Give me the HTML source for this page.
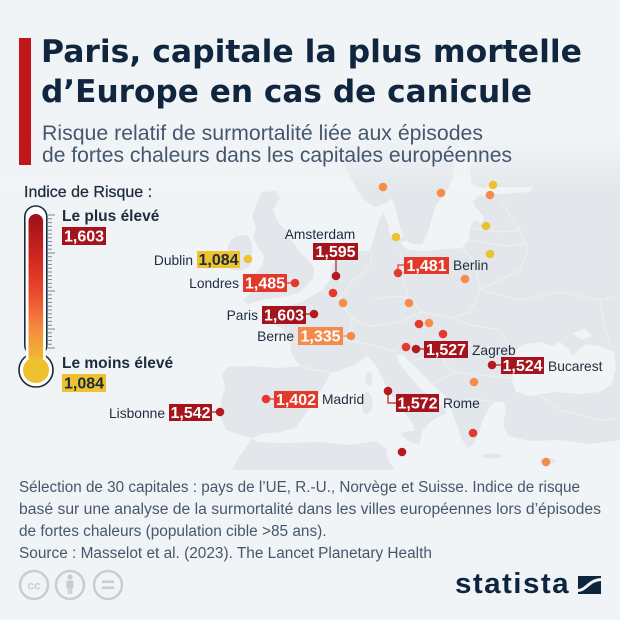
<!DOCTYPE html>
<html>
<head>
<meta charset="utf-8">
<style>
html,body{margin:0;padding:0;background:#f1f4f7;}
body{width:620px;height:620px;overflow:hidden;}
svg{display:block;}
</style>
</head>
<body>
<svg width="620" height="620" viewBox="0 0 620 620" xmlns="http://www.w3.org/2000/svg">
<defs>
  <linearGradient id="fg" gradientUnits="userSpaceOnUse" x1="0" y1="138" x2="0" y2="192">
    <stop offset="0" stop-color="#fff" stop-opacity="0"/>
    <stop offset="1" stop-color="#fff" stop-opacity="1"/>
  </linearGradient>
  <mask id="mk" maskUnits="userSpaceOnUse" x="0" y="0" width="620" height="620">
    <rect x="0" y="0" width="620" height="470" fill="url(#fg)"/>
  </mask>
  <linearGradient id="th" gradientUnits="userSpaceOnUse" x1="0" y1="214" x2="0" y2="372">
    <stop offset="0" stop-color="#9c1018"/>
    <stop offset="0.3" stop-color="#d42a22"/>
    <stop offset="0.5" stop-color="#ea4a2c"/>
    <stop offset="0.7" stop-color="#f5843f"/>
    <stop offset="0.9" stop-color="#f0b534"/>
    <stop offset="1" stop-color="#eec12f"/>
  </linearGradient>
</defs>

<rect width="620" height="620" fill="#f1f4f7"/>

<!-- MAP -->
<g mask="url(#mk)">
  <rect x="0" y="120" width="620" height="350" fill="#e3e6ea"/>
  <!-- country borders -->
  <g fill="none" stroke="#eef1f4" stroke-width="1">
    <polyline points="300,366 315,370 330,372"/>
    <polyline points="322,290 338,300 352,318 350,330 345,340"/>
    <polyline points="345,340 372,345 396,352"/>
    <polyline points="370,250 372,262 364,272 352,282 338,300"/>
    <polyline points="400,252 402,275 408,295"/>
    <polyline points="372,300 392,296 410,298 422,312 400,322 370,326 352,318"/>
    <polyline points="462,248 475,262 480,290 470,312 452,318 422,312"/>
    <polyline points="470,228 500,232 520,230"/>
    <polyline points="469,240 505,246 525,244"/>
    <polyline points="500,199 510,215 520,230 528,250 520,270 480,290"/>
    <polyline points="480,290 520,300 560,292 600,300 620,296"/>
    <polyline points="452,318 470,325 500,330 512,352"/>
    <polyline points="410,362 440,352 470,345 500,350 512,352"/>
    <polyline points="432,384 455,372 480,375 512,378"/>
    <polyline points="450,405 470,398 494,402"/>
    <polyline points="440,340 445,365 455,372"/>
    <polyline points="600,300 605,330 612,350"/>
    <polyline points="540,395 560,410 600,420 620,418"/>
  </g>
  <g fill="#f1f4f7">
    <!-- Atlantic / North Sea -->
    <polygon points="0,120 330,120 338,150 346,168 352,180 362,198 375,207 386,203 392,198 396,210 399,224 404,236 398,240 390,236 388,224 384,213 378,222 374,238 370,250 355,252 340,258 332,265 330,280 322,290 312,296 302,302 292,305 282,312 270,315 268,322 282,328 290,340 292,355 300,366 280,368 250,366 228,367 222,374 225,388 221,402 220,416 226,430 240,435 252,438 248,445 240,455 232,470 0,470"/>
    <!-- Baltic -->
    <polygon points="400,243 408,250 425,251 445,249 462,248 469,240 470,228 474,220 482,224 484,216 476,208 473,202 478,196 500,194 530,192 533,187 505,187 482,188 472,184 470,172 474,150 476,120 458,120 456,150 452,180 446,192 436,205 432,218 428,232 422,244 412,244 406,240"/>
    <!-- Mediterranean -->
    <polygon points="252,438 262,434 280,432 295,428 303,418 312,405 320,392 327,380 330,373 342,370 352,366 362,360 368,356 375,364 382,377 388,390 396,402 405,413 413,424 417,435 423,430 430,422 440,416 447,413 442,406 432,398 420,388 410,377 402,367 396,356 402,354 410,362 420,372 432,384 444,395 450,405 453,415 458,428 462,440 468,448 474,444 478,435 482,422 488,410 494,402 504,402 506,412 503,424 508,436 530,441 560,440 590,444 620,440 620,470 395,470 388,460 386,448 376,441 350,445 320,442 280,443 258,442"/>
    <!-- Black Sea -->
    <polygon points="512,352 525,344 540,342 552,346 560,342 568,348 572,356 578,350 586,344 600,346 614,352 616,368 612,384 600,392 580,394 555,392 530,396 516,392 512,380 514,366"/>
    <polygon points="572,333 585,329 592,336 582,340"/>
  </g>
  <g fill="#e3e6ea">
    <!-- Great Britain -->
    <polygon points="262,192 276,191 280,198 273,210 278,222 287,232 293,242 300,252 308,260 314,268 313,278 306,286 300,292 288,296 275,298 262,300 248,304 243,300 252,292 262,287 258,280 254,274 262,266 264,256 258,247 253,238 256,228 252,216 256,205"/>
    <!-- Ireland -->
    <polygon points="236,236 247,235 252,242 252,256 250,266 240,271 229,269 231,258 227,248 231,240"/>
    <ellipse cx="369" cy="379" rx="3.5" ry="7"/>
    <ellipse cx="367" cy="403" rx="5.5" ry="11"/>
    <polygon points="400,433 423,429 419,445 408,441"/>
    <ellipse cx="492" cy="456" rx="11" ry="2.5"/>
    <ellipse cx="548" cy="461" rx="8" ry="3"/>
    <ellipse cx="333" cy="400" rx="5" ry="2.5"/>
  </g>
</g>

<!-- TITLE -->
<rect x="19" y="38" width="12" height="127" fill="#c0161c"/>
<g font-family="'DejaVu Sans','Liberation Sans',sans-serif" font-weight="bold" font-size="31.5" fill="#10263f">
  <text x="41" y="62" textLength="541" lengthAdjust="spacingAndGlyphs">Paris, capitale la plus mortelle</text>
  <text x="41" y="102" textLength="491" lengthAdjust="spacingAndGlyphs">d’Europe en cas de canicule</text>
</g>
<g font-family="'Liberation Sans',sans-serif" font-size="21" fill="#45576c">
  <text x="42" y="140" textLength="441" lengthAdjust="spacingAndGlyphs">Risque relatif de surmortalité liée aux épisodes</text>
  <text x="42" y="162" textLength="470" lengthAdjust="spacingAndGlyphs">de fortes chaleurs dans les capitales européennes</text>
</g>

<!-- LEGEND -->
<text x="24" y="197" font-family="'Liberation Sans',sans-serif" font-size="16" fill="#1d2b3b" stroke="#1d2b3b" stroke-width="0.25">Indice de Risque :</text>
<!-- thermometer -->
<rect x="24.8" y="206" width="22" height="150" rx="11" fill="#fff" stroke="#1c2b3b" stroke-width="1.6"/>
<circle cx="36" cy="370" r="17" fill="#fff" stroke="#1c2b3b" stroke-width="1.6"/>
<rect x="25.8" y="340" width="20" height="22" fill="#fff"/>
<rect x="28.5" y="214" width="14.6" height="150" rx="7.3" fill="url(#th)"/>
<circle cx="36" cy="370" r="13" fill="#eec12f"/>
<g stroke="#7b8794" stroke-width="1">
  <line x1="47" y1="215" x2="55" y2="215"/>
  <line x1="47" y1="218.8" x2="52" y2="218.8"/>
  <line x1="47" y1="222.6" x2="52" y2="222.6"/>
  <line x1="47" y1="226.4" x2="52" y2="226.4"/>
  <line x1="47" y1="230.2" x2="52" y2="230.2"/>
  <line x1="47" y1="234" x2="52" y2="234"/>
  <line x1="47" y1="237.8" x2="52" y2="237.8"/>
  <line x1="47" y1="241.6" x2="52" y2="241.6"/>
  <line x1="47" y1="245.4" x2="52" y2="245.4"/>
  <line x1="47" y1="249.2" x2="52" y2="249.2"/>
  <line x1="47" y1="253" x2="55" y2="253"/>
  <line x1="47" y1="256.8" x2="52" y2="256.8"/>
  <line x1="47" y1="260.6" x2="52" y2="260.6"/>
  <line x1="47" y1="264.4" x2="52" y2="264.4"/>
  <line x1="47" y1="268.2" x2="52" y2="268.2"/>
  <line x1="47" y1="272" x2="52" y2="272"/>
  <line x1="47" y1="275.8" x2="52" y2="275.8"/>
  <line x1="47" y1="279.6" x2="52" y2="279.6"/>
  <line x1="47" y1="283.4" x2="52" y2="283.4"/>
  <line x1="47" y1="287.2" x2="52" y2="287.2"/>
  <line x1="47" y1="291" x2="55" y2="291"/>
  <line x1="47" y1="294.8" x2="52" y2="294.8"/>
  <line x1="47" y1="298.6" x2="52" y2="298.6"/>
  <line x1="47" y1="302.4" x2="52" y2="302.4"/>
  <line x1="47" y1="306.2" x2="52" y2="306.2"/>
  <line x1="47" y1="310" x2="52" y2="310"/>
  <line x1="47" y1="313.8" x2="52" y2="313.8"/>
  <line x1="47" y1="317.6" x2="52" y2="317.6"/>
  <line x1="47" y1="321.4" x2="52" y2="321.4"/>
  <line x1="47" y1="325.2" x2="52" y2="325.2"/>
  <line x1="47" y1="329" x2="55" y2="329"/>
  <line x1="47" y1="332.8" x2="52" y2="332.8"/>
  <line x1="47" y1="336.6" x2="52" y2="336.6"/>
  <line x1="47" y1="340.4" x2="52" y2="340.4"/>
  <line x1="47" y1="344.2" x2="52" y2="344.2"/>
  <line x1="47" y1="348" x2="55" y2="348"/>
</g>
<g font-family="'Liberation Sans',sans-serif" font-weight="bold">
  <text x="62" y="221" font-size="15.5" fill="#1d2b3b">Le plus élevé</text>
  <rect x="62" y="227" width="44" height="18" fill="#a5141c"/>
  <text x="84" y="241.5" font-size="16" fill="#fff" text-anchor="middle">1,603</text>
  <text x="62" y="368" font-size="15.5" fill="#1d2b3b">Le moins élevé</text>
  <rect x="62" y="374" width="44" height="18" fill="#eec22f"/>
  <text x="84" y="388.5" font-size="16" fill="#1d2b3b" text-anchor="middle">1,084</text>
</g>

<!-- CONNECTORS -->
<g fill="none" stroke-width="1.2">
  <line x1="287" y1="283" x2="295" y2="283" stroke="#e4392c"/>
  <line x1="306" y1="314" x2="314" y2="314" stroke="#b51a1f"/>
  <line x1="343" y1="336" x2="351" y2="336" stroke="#f68b4a"/>
  <line x1="416" y1="349" x2="424" y2="349" stroke="#b51a1f"/>
  <line x1="492" y1="365" x2="501" y2="365" stroke="#b51a1f"/>
  <line x1="266" y1="399" x2="274" y2="399" stroke="#e4392c"/>
  <line x1="212" y1="412" x2="220" y2="412" stroke="#b51a1f"/>
  <line x1="336" y1="260" x2="336" y2="276" stroke="#b51a1f"/>
  <polyline points="398,273 398,265 404,265" stroke="#e4392c"/>
  <polyline points="388,391 388,403 396,403" stroke="#b51a1f"/>
</g>

<!-- DOTS -->
<g>
  <g fill="#f68b4a">
    <circle cx="383" cy="187" r="4.3"/>
    <circle cx="441" cy="193" r="4.3"/>
    <circle cx="490" cy="195" r="4.3"/>
    <circle cx="465" cy="279" r="4.3"/>
    <circle cx="409" cy="303" r="4.3"/>
    <circle cx="429" cy="323" r="4.3"/>
    <circle cx="343" cy="303" r="4.3"/>
    <circle cx="351" cy="336" r="4.3"/>
    <circle cx="474" cy="382" r="4.3"/>
    <circle cx="546" cy="462" r="4.3"/>
  </g>
  <g fill="#eec22f">
    <circle cx="493" cy="185" r="4.3"/>
    <circle cx="486" cy="226" r="4.3"/>
    <circle cx="396" cy="237" r="4.3"/>
    <circle cx="490" cy="254" r="4.3"/>
    <circle cx="248" cy="259" r="4.3"/>
  </g>
  <g fill="#e4392c">
    <circle cx="295" cy="283" r="4.3"/>
    <circle cx="398" cy="273" r="4.3"/>
    <circle cx="333" cy="293" r="4.3"/>
    <circle cx="419" cy="324" r="4.3"/>
    <circle cx="443" cy="334" r="4.3"/>
    <circle cx="406" cy="347" r="4.3"/>
    <circle cx="266" cy="399" r="4.3"/>
    <circle cx="473" cy="433" r="4.3"/>
  </g>
  <g fill="#b51a1f">
    <circle cx="336" cy="276" r="4.3"/>
    <circle cx="314" cy="314" r="4.3"/>
    <circle cx="416" cy="349" r="4.3"/>
    <circle cx="492" cy="365" r="4.3"/>
    <circle cx="388" cy="391" r="4.3"/>
    <circle cx="402" cy="452" r="4.3"/>
    <circle cx="220" cy="412" r="4.3"/>
  </g>
</g>

<!-- VALUE BOXES -->
<g font-family="'Liberation Sans',sans-serif" font-weight="bold" font-size="16" text-anchor="middle">
  <rect x="197" y="251" width="43" height="17" fill="#eec22f"/>
  <text x="218.5" y="265" fill="#1d2b3b">1,084</text>
  <rect x="243" y="274" width="44" height="18" fill="#e2392b"/>
  <text x="265" y="288.5" fill="#fff">1,485</text>
  <rect x="313" y="243" width="45" height="17" fill="#a5141c"/>
  <text x="335.5" y="257" fill="#fff">1,595</text>
  <rect x="262" y="306" width="44" height="18" fill="#a5141c"/>
  <text x="284" y="320.5" fill="#fff">1,603</text>
  <rect x="298" y="327" width="45" height="18" fill="#f58b4b"/>
  <text x="320.5" y="341.5" fill="#fff">1,335</text>
  <rect x="404" y="257" width="45" height="17" fill="#e2392b"/>
  <text x="426.5" y="271" fill="#fff">1,481</text>
  <rect x="424" y="341" width="44" height="17" fill="#a5141c"/>
  <text x="446" y="355" fill="#fff">1,527</text>
  <rect x="501" y="357" width="43" height="17" fill="#a5141c"/>
  <text x="522.5" y="371" fill="#fff">1,524</text>
  <rect x="396" y="394" width="43" height="18" fill="#a5141c"/>
  <text x="417.5" y="408.5" fill="#fff">1,572</text>
  <rect x="274" y="391" width="44" height="17" fill="#e2392b"/>
  <text x="296" y="405" fill="#fff">1,402</text>
  <rect x="169" y="404" width="43" height="17" fill="#a5141c"/>
  <text x="190.5" y="418" fill="#fff">1,542</text>
</g>

<!-- CITY LABELS -->
<g font-family="'Liberation Sans',sans-serif" font-size="13.8" fill="#1f2e3e">
  <text x="193" y="265" text-anchor="end">Dublin</text>
  <text x="239" y="288" text-anchor="end">Londres</text>
  <text x="320" y="239" text-anchor="middle">Amsterdam</text>
  <text x="258" y="320" text-anchor="end">Paris</text>
  <text x="294" y="341" text-anchor="end">Berne</text>
  <text x="453" y="270">Berlin</text>
  <text x="472" y="355">Zagreb</text>
  <text x="548" y="371">Bucarest</text>
  <text x="443" y="408">Rome</text>
  <text x="322" y="404">Madrid</text>
  <text x="165" y="418" text-anchor="end">Lisbonne</text>
</g>

<!-- FOOTER -->
<g font-family="'Liberation Sans',sans-serif" font-size="15.4" fill="#46576b">
  <text x="19" y="492" textLength="561" lengthAdjust="spacingAndGlyphs">Sélection de 30 capitales : pays de l’UE, R.-U., Norvège et Suisse. Indice de risque</text>
  <text x="19" y="514" textLength="582" lengthAdjust="spacingAndGlyphs">basé sur une analyse de la surmortalité dans les villes européennes lors d’épisodes</text>
  <text x="19" y="536">de fortes chaleurs (population cible &gt;85 ans).</text>
  <text x="19" y="558">Source : Masselot et al. (2023). The Lancet Planetary Health</text>
</g>

<!-- CC ICONS -->
<g fill="none" stroke="#c8cdd3" stroke-width="2.5">
  <circle cx="34" cy="585" r="14"/>
  <circle cx="70" cy="585" r="14"/>
  <circle cx="108" cy="585" r="14"/>
</g>
<text x="34" y="589.5" font-family="'Liberation Sans',sans-serif" font-weight="bold" font-size="12" fill="#c8cdd3" text-anchor="middle">cc</text>
<g fill="#c8cdd3">
  <circle cx="70" cy="577" r="2.6"/>
  <rect x="66.5" y="580.5" width="7" height="8" rx="1"/>
  <rect x="67.8" y="587" width="1.8" height="7"/>
  <rect x="70.4" y="587" width="1.8" height="7"/>
  <rect x="102" y="580.5" width="12" height="2.6"/>
  <rect x="102" y="586.5" width="12" height="2.6"/>
</g>

<!-- STATISTA LOGO -->
<text x="455" y="593" font-family="'Liberation Sans',sans-serif" font-weight="bold" font-size="29" letter-spacing="1.4" fill="#0e2540" textLength="115" lengthAdjust="spacingAndGlyphs">statista</text>
<rect x="578" y="576" width="23" height="18" fill="#0e2540"/>
<path d="M578,590.5 C586,590.5 589,580 601,579.5" fill="none" stroke="#f1f4f7" stroke-width="3"/>
</svg>
</body>
</html>
